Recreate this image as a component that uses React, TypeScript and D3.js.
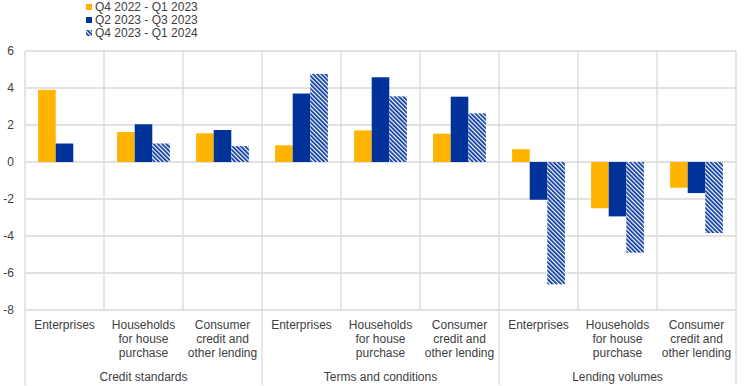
import React from "react";
import * as d3 from "d3";

const groups = ["Credit standards", "Terms and conditions", "Lending volumes"];
const subCategories = ["Enterprises", "Households for house purchase", "Consumer credit and other lending"];
const subLabelLines = [["Enterprises"], ["Households", "for house", "purchase"], ["Consumer", "credit and", "other lending"]];
const seriesNames = ["Q4 2022 - Q1 2023", "Q2 2023 - Q3 2023", "Q4 2023 - Q1 2024"];

// values per category (groups x subcategories), in order
const seriesA = [3.9, 1.62, 1.55, 0.9, 1.71, 1.53, 0.69, -2.5, -1.39];
const seriesB = [1.0, 2.04, 1.73, 3.7, 4.58, 3.53, -2.04, -2.94, -1.68];
const seriesC: (number | null)[] = [null, 1.0, 0.86, 4.76, 3.55, 2.63, -6.61, -4.9, -3.84];
const yTicks = [6, 4, 2, 0, -2, -4, -6, -8];

const W = 744;
const H = 386;
const left = 25;
const right = 736;
const top = 51;
const bottom = 310;
const yellow = "#FFB400";
const blue = "#003299";
const grid = "#d9d9d9";
const textCol = "#404040";
const font = "'Liberation Sans', Arial, sans-serif";

export default function App() {
  const cats: string[] = [];
  groups.forEach((g) => subCategories.forEach((s) => cats.push(g + "|" + s)));
  const x = d3.scaleBand<string>().domain(cats).range([left, right]).paddingInner(0).paddingOuter(0);
  const bw = x.bandwidth();
  const xs = d3.scaleBand<string>().domain(seriesNames).range([0, bw]).paddingInner(0).paddingOuter(0.745);
  const y = d3.scaleLinear().domain([-8, 6]).range([bottom, top]);
  const seriesVals = [seriesA, seriesB, seriesC];
  const fills = [yellow, blue, "url(#hatch)"];

  return (
    <svg width={W} height={H} style={{ position: "absolute", left: 0, top: 0, display: "block" }} fontFamily={font}>
      <defs>
        <pattern id="hatch" patternUnits="userSpaceOnUse" width={3} height={3} patternTransform="rotate(-45)">
          <rect x={0} y={0} width={3} height={3} fill="#ffffff" />
          <rect x={0} y={0} width={1.7} height={3} fill={blue} />
        </pattern>
      </defs>
      <rect x={0} y={0} width={W} height={H} fill="#fff" />
      {/* horizontal grid */}
      {yTicks.map((t) => (
        <line key={"g" + t} x1={left} x2={right} y1={y(t)} y2={y(t)} stroke={grid} strokeWidth={1.3} />
      ))}
      {/* vertical category lines */}
      {d3.range(cats.length + 1).map((i) => {
        const xx = left + i * bw;
        const isGroup = i % 3 === 0;
        return (
          <line key={"v" + i} x1={xx} x2={xx} y1={top} y2={isGroup ? 385 : bottom} stroke={grid} strokeWidth={1.3} />
        );
      })}
      {/* y tick labels */}
      {yTicks.map((t) => (
        <text key={"t" + t} x={14} y={y(t) + 4} textAnchor="end" fontSize={12} fill={textCol}>
          {t}
        </text>
      ))}
      {/* bars */}
      {cats.map((c, ci) =>
        seriesNames.map((s, si) => {
          const v = seriesVals[si][ci];
          if (v === null || v === undefined) return null;
          const x0 = (x(c) as number) + (xs(s) as number);
          const y0 = y(Math.max(0, v));
          const h = Math.abs(y(v) - y(0));
          return (
            <rect key={c + s} x={x0} y={y0} width={xs.bandwidth()} height={h} fill={fills[si]} />
          );
        })
      )}
      {/* sub-category labels */}
      {cats.map((c, ci) => {
        const cx = (x(c) as number) + bw / 2;
        const lines = subLabelLines[ci % 3];
        return (
          <text key={"l" + c} textAnchor="middle" fontSize={12} fill={textCol}>
            {lines.map((ln, li) => (
              <tspan key={li} x={cx} y={329 + li * 14}>
                {ln}
              </tspan>
            ))}
          </text>
        );
      })}
      {/* group labels */}
      {groups.map((g, gi) => {
        const cx = left + (gi * 3 + 1.5) * bw;
        return (
          <text key={g} x={cx} y={381} textAnchor="middle" fontSize={12} fill={textCol}>
            {g}
          </text>
        );
      })}
      {/* legend */}
      {seriesNames.map((s, si) => (
        <g key={"leg" + s} transform={`translate(86, ${4 + si * 13})`}>
          <rect x={0} y={0} width={6} height={6} fill={fills[si]} />
          <text x={9} y={7} fontSize={12} fill={textCol}>
            {s}
          </text>
        </g>
      ))}
    </svg>
  );
}
